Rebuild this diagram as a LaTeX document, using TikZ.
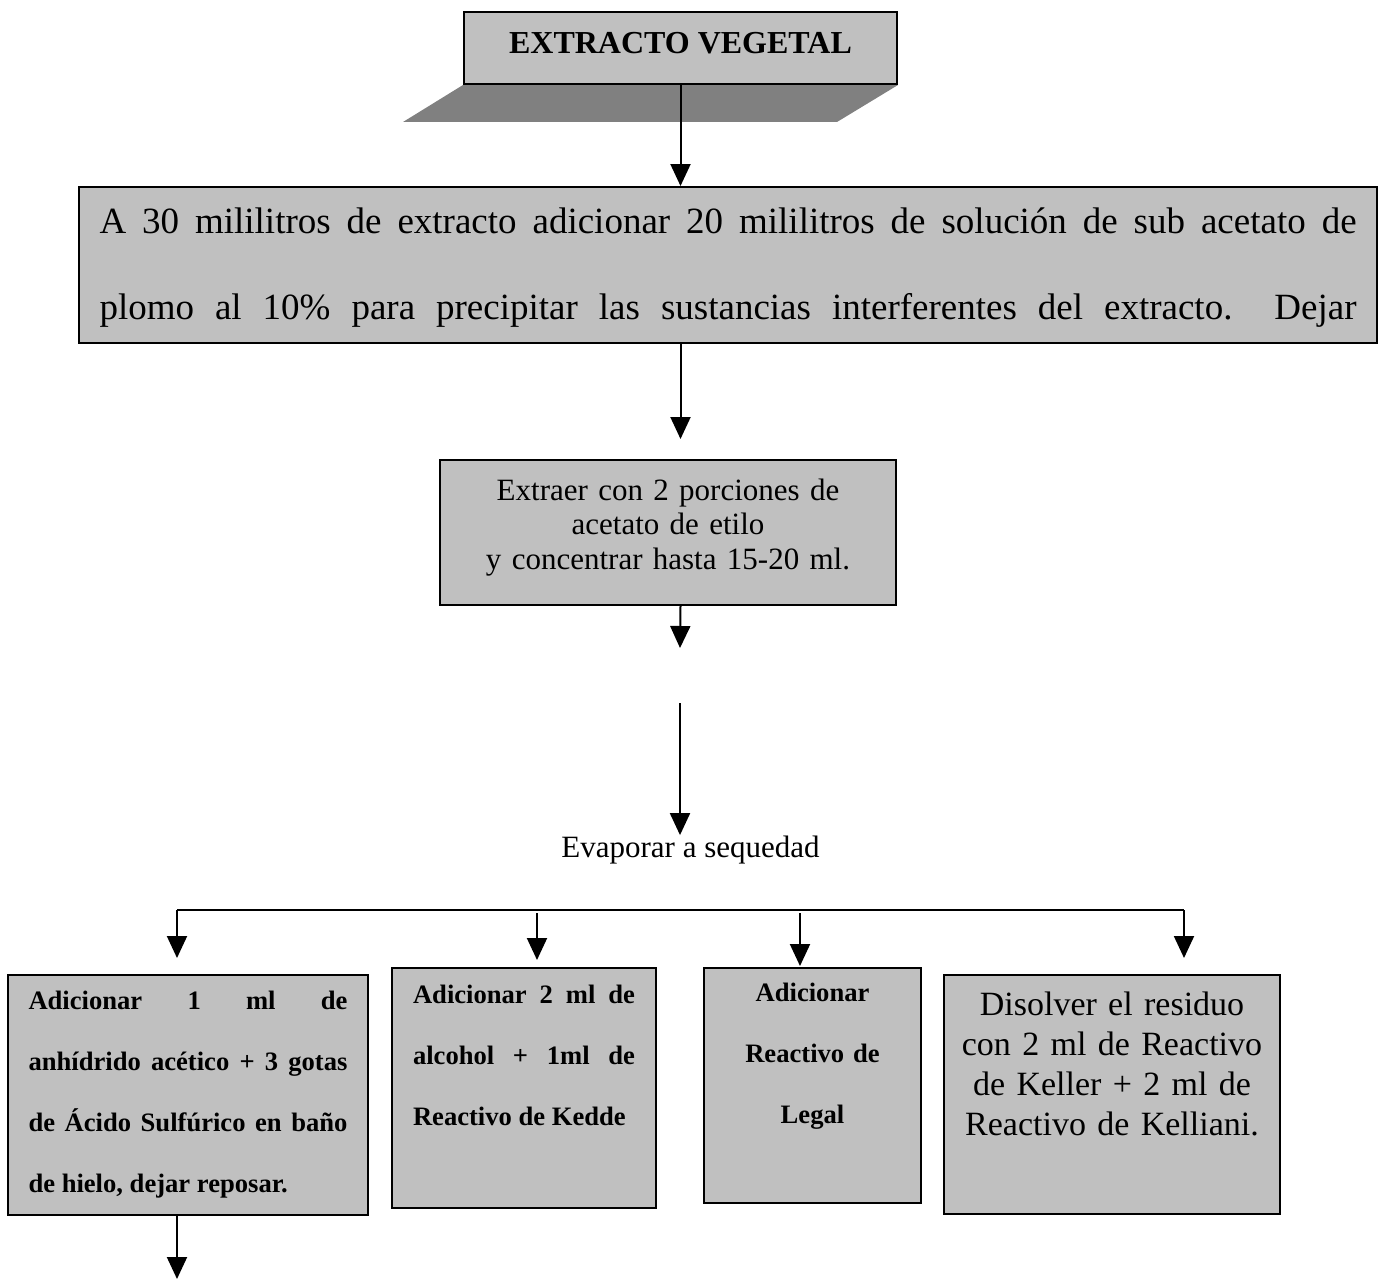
\documentclass[tikz,border=0pt]{standalone}
\usepackage{fontspec}
\setmainfont{Liberation Serif}
\usetikzlibrary{arrows.meta,backgrounds}
\definecolor{cajagris}{HTML}{C0C0C0}
\definecolor{sombragris}{HTML}{808080}

\begin{document}
\begin{tikzpicture}[
    x=0.5pt, y=-0.5pt,
    >={Triangle[length=11pt, width=10pt]},
    flecha/.style={->, line width=1pt},
    caja/.style={
        draw, line width=1pt,
        fill=cajagris,
        inner ysep=0pt
    },
    txtgrande/.style={font=\fontsize{18.5}{43}\selectfont},
    txtmedio/.style={font=\fontsize{15.5}{17.25}\selectfont},
    txtnegrita/.style={font=\bfseries\fontsize{13.3}{30.65}\selectfont}
]
\useasboundingbox (0,0) rectangle (1386,1279);

% =========================================================
% Cabecera: extracto vegetal con sombra
% =========================================================
\node[caja, minimum width=216.5pt, inner xsep=0pt,
      text height=21pt, text depth=15pt,
      font=\bfseries\fontsize{16}{19}\selectfont] (extracto) at (680.5,48)
    {EXTRACTO VEGETAL};
\begin{scope}[on background layer]
\fill[sombragris] (extracto.south west) -- (extracto.south east)
    -- ++(-61,37) -- ++(-434,0) -- cycle;
\end{scope}

% Precipitar con sub acetato de plomo
\node[caja, txtgrande, text width=628.5pt, inner xsep=10.25pt,
      text height=23pt, text depth=55pt, align=justify] (plomo) at (728,265)
    {\tolerance=10000 A 30 mililitros de extracto adicionar
     20 mililitros de solución de sub acetato de\linebreak
     \hbox to \linewidth{plomo al 10\% para precipitar las sustancias
     interferentes del extracto.\ \ Dejar}};
\draw[flecha] (extracto.south) -- (extracto.south |- plomo.north);

% Extraer con acetato de etilo
\node[caja, txtmedio, text width=218pt, inner xsep=5pt,
      text height=20pt, text depth=52.5pt, align=center] (etilo) at (668,532.5)
    {Extraer con 2 porciones de\\acetato de etilo\\y concentrar hasta 15-20 ml.};
\draw[flecha, shorten >=10pt] (extracto.south |- plomo.south)
    -- (extracto.south |- etilo.north);

% Evaporar
\coordinate (pausaA) at (680,648);
\coordinate (pausaB) at (680,703);
\node[font=\fontsize{15.5}{18}\selectfont, inner sep=0pt, anchor=base]
    (evaporar) at (690.5,857) {Evaporar a sequedad};
\draw[flecha] (extracto.south |- etilo.south) -- (pausaA);
\draw[flecha] (pausaB) -- (pausaB |- evaporar.north);

% =========================================================
% Ensayos: Liebermann, Kedde, Legal, Keller-Kelliani
% =========================================================
\node[caja, txtnegrita, text width=159.5pt, inner xsep=10.25pt,
      text height=17pt, text depth=103pt, align=justify] (anhidrido) at (188,1095)
    {\tolerance=10000 Adicionar 1 ml de\linebreak anhídrido acético + 3 gotas\linebreak
     de Ácido Sulfúrico en baño\linebreak de hielo, dejar reposar.};

\node[caja, txtnegrita, text width=111pt, inner xsep=10.5pt,
      text height=17.5pt, text depth=102.5pt, align=justify] (kedde) at (524,1088)
    {\tolerance=10000 Adicionar 2 ml de\linebreak alcohol + 1ml de\linebreak
     Reactivo de Kedde};

\node[caja, txtnegrita, text width=90pt, inner xsep=9.25pt,
      text height=16.5pt, text depth=101pt, align=center] (legal) at (812.5,1085.5)
    {Adicionar\\Reactivo de\\Legal};

\node[caja, font=\fontsize{17}{20}\selectfont, text width=158pt, inner xsep=5pt,
      text height=20pt, text depth=99.5pt, align=center] (keller) at (1112,1094.5)
    {Disolver el residuo\\con 2 ml de Reactivo\\de Keller + 2 ml de\\Reactivo de Kelliani.};

% Ramificacion
\coordinate (ramaI) at (177,910);
\coordinate (ramaD) at (1184,910);
\coordinate (ramaB) at (537,913);
\coordinate (ramaC) at (800,913);
\draw[line width=1pt] (ramaI) -- (ramaD);
\draw[flecha, shorten >=8pt] (ramaI) -- (ramaI |- anhidrido.north);
\draw[flecha, shorten >=3.5pt] (ramaB) -- (ramaB |- kedde.north);
\draw[flecha, shorten >=0.5pt] (ramaC) -- (ramaC |- legal.north);
\draw[flecha, shorten >=8pt] (ramaD) -- (ramaD |- keller.north);

% Salida inferior
\coordinate (finA) at (177,1279);
\draw[flecha] (finA |- anhidrido.south) -- (finA);

\end{tikzpicture}
\end{document}
